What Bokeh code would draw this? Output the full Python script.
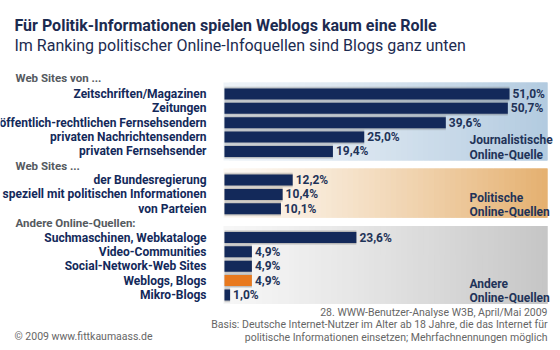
from bokeh.plotting import figure
from bokeh.models import Range1d, ColumnDataSource
from bokeh.embed import file_html
from bokeh.resources import INLINE
from bokeh.core.properties import value

# ---------------- data ----------------
title = "Für Politik-Informationen spielen Weblogs kaum eine Rolle"
subtitle = "Im Ranking politischer Online-Infoquellen sind Blogs ganz unten"
group_headers = ["Web Sites von ...", "Web Sites ...", "Andere Online-Quellen:"]
cats_journal = ["Zeitschriften/Magazinen", "Zeitungen", "öffentlich-rechtlichen Fernsehsendern",
                "privaten Nachrichtensendern", "privaten Fernsehsender"]
vals_journal = [51.0, 50.7, 39.6, 25.0, 19.4]
cats_polit = ["der Bundesregierung", "speziell mit politischen Informationen", "von Parteien"]
vals_polit = [12.2, 10.4, 10.1]
cats_other = ["Suchmaschinen, Webkataloge", "Video-Communities", "Social-Network-Web Sites",
              "Weblogs, Blogs", "Mikro-Blogs"]
vals_other = [23.6, 4.9, 4.9, 4.9, 1.0]
panel_labels = [["Journalistische", "Online-Quelle"],
                ["Politische", "Online-Quellen"],
                ["Andere", "Online-Quellen"]]
highlight = "Weblogs, Blogs"
source_left = "© 2009 www.fittkaumaass.de"
source_right = ["28. WWW-Benutzer-Analyse W3B, April/Mai 2009",
                "Basis: Deutsche Internet-Nutzer im Alter ab 18 Jahre, die das Internet für",
                "politische Informationen einsetzen; Mehrfachnennungen möglich"]

# ---------------- layout / style ----------------
W, H = 560, 350
X0 = 224.0          # pixel of 0 %
PX = 5.588          # pixels per percent
def px(xpix):
    return (xpix - X0) / PX

NAVY = "#13295a"
ORANGE = "#e8791e"
HEAD = "#555a60"
GREY = "#666666"
FONT = value("Roboto")
BASE = 93.5
STEP = 14.35
BAR_H = 11
PANEL_RIGHT = px(547)
panel_cols = [("#eef3f8", "#b3cbe0"),
              ("#fdf9f4", "#e5b171"),
              ("#f6f6f6", "#c6c6c6")]

def hex2rgb(h):
    h = h.lstrip("#")
    return tuple(int(h[i:i + 2], 16) for i in (0, 2, 4))

def mix(c1, c2, t):
    a, b = hex2rgb(c1), hex2rgb(c2)
    return "#%02x%02x%02x" % tuple(int(round(a[i] + (b[i] - a[i]) * t)) for i in range(3))

p = figure(width=W, height=H, x_range=Range1d(px(0), px(W)), y_range=Range1d(H, 0),
           output_backend="svg", toolbar_location=None, min_border=0,
           x_axis_location=None, y_axis_location=None)
p.grid.visible = False
p.outline_line_color = None
p.background_fill_color = "white"
p.border_fill_color = "white"

groups = [(cats_journal, vals_journal), (cats_polit, vals_polit), (cats_other, vals_other)]

slot = 0
row_y, row_c, row_v = [], [], []
head_y = []
for gi, (cats, vals) in enumerate(groups):
    if gi > 0:
        slot += 1
    head_y.append(BASE + STEP * (slot - 1) - (2 if gi == 0 else 0))
    ys = []
    for c, v in zip(cats, vals):
        y = BASE + STEP * slot
        ys.append(y)
        row_y.append(y); row_c.append(c); row_v.append(v)
        slot += 1
    # gradient panel
    top, bot = ys[0] - 11.5, ys[-1] + 9
    N = 60
    x_a, x_b = px(223), PANEL_RIGHT
    dx = (x_b - x_a) / N
    lefts = [x_a + dx * i for i in range(N)]
    rights = [min(x_a + dx * (i + 2), x_b) for i in range(N)]
    cols = [mix(panel_cols[gi][0], panel_cols[gi][1], (i / (N - 1)) ** 1.2) for i in range(N)]
    p.quad(left=lefts, right=rights, top=[top] * N, bottom=[bot] * N,
           fill_color=cols, line_color=None)
    # panel label
    lab = panel_labels[gi]
    ly2 = bot - 5.5
    p.text(x=[px(469)] * 2, y=[ly2 - 14.5, ly2], text=lab, text_font=FONT,
           text_font_size="12px", text_font_style="bold", text_color="#1f3358",
           text_baseline="middle", text_align="left")

colors = [ORANGE if c == highlight else NAVY for c in row_c]
src = ColumnDataSource(dict(y=row_y, c=row_c, v=row_v, col=colors,
                            lab=[("%.1f" % v).replace(".", ",") + "%" for v in row_v],
                            lx=[v + 3 / PX for v in row_v]))

# shadows
for off, a in [(2.0, 0.16), (1.0, 0.22)]:
    p.hbar(y="y", left=0, right="v", height=BAR_H + off * 2, source=src,
           fill_color="#555555", fill_alpha=a, line_color=None)
p.hbar(y="y", left=0, right="v", height=BAR_H, source=src,
       fill_color="col", line_color=None)

p.text(x=px(206), y="y", text="c", source=src, text_font=FONT, text_font_size="12px",
       text_font_style="bold", text_color=NAVY, text_align="right", text_baseline="middle")
p.text(x="lx", y="y", text="lab", source=src, text_font=FONT, text_font_size="12px",
       text_font_style="bold", text_color="#1f3358", text_align="left", text_baseline="middle")

p.text(x=[px(15)] * 3, y=head_y, text=group_headers, text_font=FONT, text_font_size="11.5px",
       text_font_style="bold", text_color=HEAD, text_align="left", text_baseline="middle")

p.text(x=[px(14)], y=[25], text=[title], text_font=FONT, text_font_size="16px",
       text_font_style="bold", text_color="#1c2b50", text_baseline="middle")
p.text(x=[px(14)], y=[45], text=[subtitle], text_font=FONT, text_font_size="16px",
       text_color="#1c2b50", text_baseline="middle")

p.text(x=[px(14)], y=[336], text=[source_left], text_font=FONT, text_font_size="10.5px",
       text_color=GREY, text_baseline="middle")
p.text(x=[px(547)] * 3, y=[311.5, 324, 337], text=source_right, text_font=FONT,
       text_font_size="10.5px", text_color=GREY, text_align="right", text_baseline="middle")

open("out.html", "w").write(file_html(p, INLINE))
